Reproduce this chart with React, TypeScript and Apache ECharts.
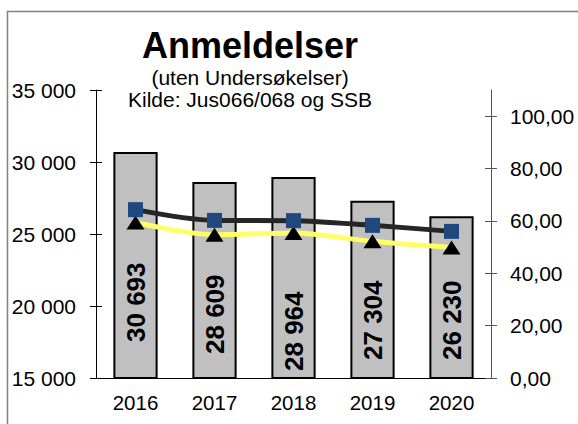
import React, { useEffect, useRef } from "react";
import * as echarts from "echarts";

const years = ["2016", "2017", "2018", "2019", "2020"];
const reports = [30693, 28609, 28964, 27304, 26230];
const ratePerThousand = [64.3, 60.2, 60.1, 58.3, 56.0];
const rateSecondary = [59.4, 54.7, 55.4, 52.2, 49.8];
const leftTicks = [15000, 20000, 25000, 30000, 35000];
const rightTicks = [0, 20, 40, 60, 80, 100];

// label lift above bar base (style)
const labelLift = [37, 25, 8, 19, 19];

const FONT = "'Liberation Sans', Arial, sans-serif";

const fmtThousands = (v: number) =>
  String(Math.round(v)).replace(/\B(?=(\d{3})+(?!\d))/g, " ");
const fmtDec = (v: number) => v.toFixed(2).replace(".", ",");

export default function App() {
  const ref = useRef<HTMLDivElement>(null);
  useEffect(() => {
    if (!ref.current) return;
    const chart = echarts.init(ref.current, null, { renderer: "svg" });
    const axisText = { fontFamily: FONT, fontSize: 21, color: "#000" };
    chart.setOption({
      animation: false,
      backgroundColor: "#fff",
      textStyle: { fontFamily: FONT },
      graphic: [
        {
          type: "rect",
          shape: { x: 7.5, y: 11.5, width: 700, height: 600 },
          style: { fill: "none", stroke: "#808080", lineWidth: 1.5 },
          silent: true,
          z: -10,
        },
        {
          type: "text",
          x: 250,
          y: 45,
          style: {
            text: "Anmeldelser",
            fontFamily: FONT,
            fontSize: 36,
            fontWeight: "bold",
            fill: "#000",
            align: "center",
            verticalAlign: "middle",
          },
        },
        {
          type: "text",
          x: 250,
          y: 77,
          style: {
            text: "(uten Undersøkelser)",
            fontFamily: FONT,
            fontSize: 21,
            fill: "#000",
            align: "center",
            verticalAlign: "middle",
          },
        },
        {
          type: "text",
          x: 250,
          y: 99,
          style: {
            text: "Kilde: Jus066/068 og SSB",
            fontFamily: FONT,
            fontSize: 21,
            fill: "#000",
            align: "center",
            verticalAlign: "middle",
          },
        },
      ],
      grid: { left: 96, right: 87, top: 90, bottom: 46, containLabel: false },
      xAxis: [
        {
          type: "category",
          data: years,
          position: "bottom",
          axisLine: { lineStyle: { color: "#000", width: 1 } },
          axisTick: { inside: false, length: 6, lineStyle: { color: "#000" } },
          axisLabel: { ...axisText, fontSize: 20.5, margin: 14 },
        },
        {
          type: "category",
          data: years,
          position: "bottom",
          axisLine: { show: false },
          axisTick: { inside: true, length: 6, lineStyle: { color: "#000" } },
          axisLabel: { show: false },
        },
      ],
      yAxis: [
        {
          type: "value",
          position: "left",
          min: 15000,
          max: 35000,
          interval: 5000,
          axisLine: { show: true, lineStyle: { color: "#000" } },
          axisTick: { show: true, inside: false, length: 6, lineStyle: { color: "#000" } },
          axisLabel: { ...axisText, margin: 20, formatter: fmtThousands, customValues: leftTicks },
          splitLine: { show: false },
        },
        {
          type: "value",
          position: "right",
          min: 0,
          max: 110,
          interval: 20,
          axisLine: { show: true, lineStyle: { color: "#555" } },
          axisTick: {
            show: true,
            inside: false,
            length: 6,
            lineStyle: { color: "#555" },
            customValues: rightTicks,
          },
          axisLabel: { ...axisText, margin: 19, formatter: fmtDec, customValues: rightTicks },
          splitLine: { show: false },
        },
        {
          type: "value",
          position: "left",
          min: 15000,
          max: 35000,
          interval: 5000,
          axisLine: { show: false },
          axisTick: { show: true, inside: true, length: 6, lineStyle: { color: "#000" } },
          axisLabel: { show: false },
          splitLine: { show: false },
        },
        {
          type: "value",
          position: "right",
          min: 0,
          max: 110,
          interval: 20,
          axisLine: { show: false },
          axisTick: {
            show: true,
            inside: true,
            length: 6,
            lineStyle: { color: "#555" },
            customValues: rightTicks,
          },
          axisLabel: { show: false },
          splitLine: { show: false },
        },
      ],
      series: [
        {
          name: "Anmeldelser",
          type: "bar",
          xAxisIndex: 0,
          yAxisIndex: 0,
          barWidth: "56%",
          itemStyle: { color: "#C0C0C0", borderColor: "#000", borderWidth: 2 },
          label: {
            show: true,
            position: "insideBottom",
            rotate: 90,
            align: "left",
            verticalAlign: "middle",
            fontFamily: FONT,
            fontSize: 26,
            fontWeight: "bold",
            color: "#000",
            formatter: (p: any) => fmtThousands(p.value),
          },
          data: reports.map((v, i) => ({ value: v, label: { distance: labelLift[i] } })),
          z: 2,
        },
        {
          name: "Rate 2",
          type: "line",
          xAxisIndex: 0,
          yAxisIndex: 1,
          smooth: 0.3,
          symbol: "triangle",
          symbolSize: [18, 14],
          lineStyle: { color: "#FFFF66", width: 5 },
          itemStyle: { color: "#000", borderColor: "#000", borderWidth: 0 },
          data: rateSecondary,
          z: 3,
        },
        {
          name: "Rate 1",
          type: "line",
          xAxisIndex: 0,
          yAxisIndex: 1,
          smooth: 0.3,
          symbol: "rect",
          symbolSize: 15,
          lineStyle: { color: "#262626", width: 5 },
          itemStyle: { color: "#1F497D", borderColor: "#1F497D", borderWidth: 0 },
          data: ratePerThousand,
          z: 4,
        },
      ],
    });
    return () => chart.dispose();
  }, []);
  return (
    <div
      ref={ref}
      style={{ position: "absolute", left: 0, top: 0, width: 578, height: 424 }}
    />
  );
}
